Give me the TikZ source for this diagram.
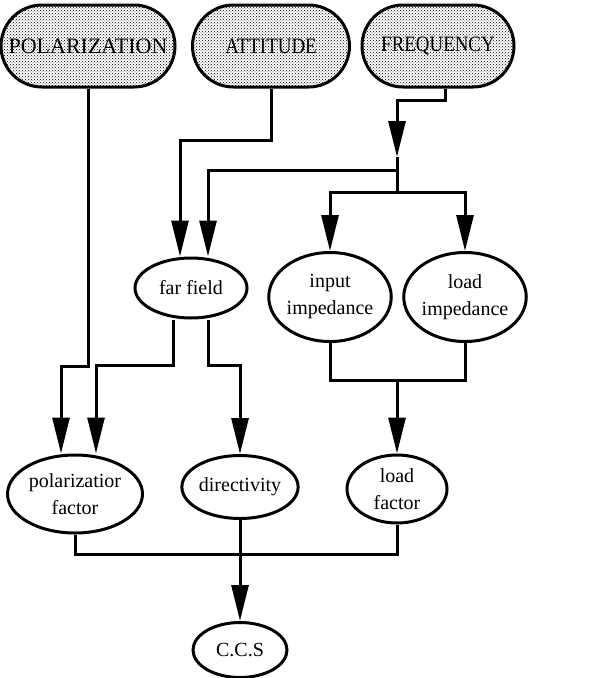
\documentclass[tikz,border=0pt]{standalone}
\usepackage{fontspec}
\setmainfont{Liberation Serif}
\newfontfamily\narrowserif[FakeStretch=0.86]{Liberation Serif}
\usetikzlibrary{arrows.meta,positioning,patterns,shapes.geometric}

\begin{document}
\begin{tikzpicture}[
  x=1pt, y=-1pt,
  input/.style={draw, line width=3pt, rounded corners=41pt, minimum height=82pt,
                inner sep=0pt, pattern=crosshatch dots, pattern color=black,
                font=\fontsize{22}{24}\selectfont},
  quant/.style={draw, ellipse, line width=3pt, inner sep=0pt, align=center,
                font=\fontsize{20}{27}\selectfont},
  arr/.style={-{Triangle[length=36pt,width=17pt]}, line width=3pt},
  wire/.style={line width=3pt}
]
\useasboundingbox (0,0) rectangle (608,678);

% inputs
\node[input, minimum width=174pt] (pol) at (88,46) {POLARIZATION};
\node[input, minimum width=157pt] (att) at (271,46) {\narrowserif ATTITUDE};
\node[input, minimum width=152pt] (freq) at (438,46) {\narrowserif FREQUENCY};

% intermediate quantities
\node[quant, minimum width=112pt, minimum height=60pt] (ff) at (191,288) {far field};
\node[quant, minimum width=116pt, minimum height=89pt] (inimp) at (330,297) {input\\impedance};
\node[quant, minimum width=115pt, minimum height=89pt] (ldimp) at (465,297) {load\\impedance};
\node[quant, minimum width=135pt, minimum height=78pt] (pf) at (75,494) {polarizatior\\factor};
\node[quant, minimum width=110pt, minimum height=63pt] (dir) at (240,487) {directivity};
\node[quant, minimum width=100pt, minimum height=68pt] (lf) at (397,489) {load\\factor};
\node[quant, minimum width=94pt, minimum height=55pt] (ccs) at (240,650) {C.C.S};

% bends and junctions
\coordinate (polbend) at (88,366);
\coordinate (attbend) at (271,140);
\coordinate (freqturn) at (397,100);
\coordinate (freqtip) at (397,157);
\coordinate (ffsplit) at (397,170);
\coordinate (impsplit) at (397,192);
\coordinate (ffleft) at (173,365);
\coordinate (ffright) at (208,365);
\coordinate (lfjoin) at (397,380);
\coordinate (ccsjoin) at (240,554);

\draw[arr] (pol.south) -- (polbend) -| ([xshift=-14pt]pf.north);
\draw[arr] (att.south) -- (attbend) -| ([xshift=-11pt]ff.north);
\draw[arr] ([xshift=7pt]freq.south) |- (freqturn) -- (freqtip);
\draw[wire] (freqtip) -- (impsplit);
\draw[arr] (ffsplit) -| ([xshift=17pt]ff.north);
\draw[arr] (impsplit) -| (inimp);
\draw[arr] (impsplit) -| (ldimp);

\draw[arr] ([xshift=-18pt]ff.south) -- (ffleft) -| ([xshift=21pt]pf.north);
\draw[arr] ([xshift=17pt]ff.south) -- (ffright) -| (dir);

\draw[wire] (inimp.south) |- (lfjoin) -| (ldimp.south);
\draw[arr] (lfjoin) -- (lf);

\draw[wire] (pf.south) |- (ccsjoin) -| (lf.south);
\draw[arr] (dir) -- (ccs);
\end{tikzpicture}
\end{document}
